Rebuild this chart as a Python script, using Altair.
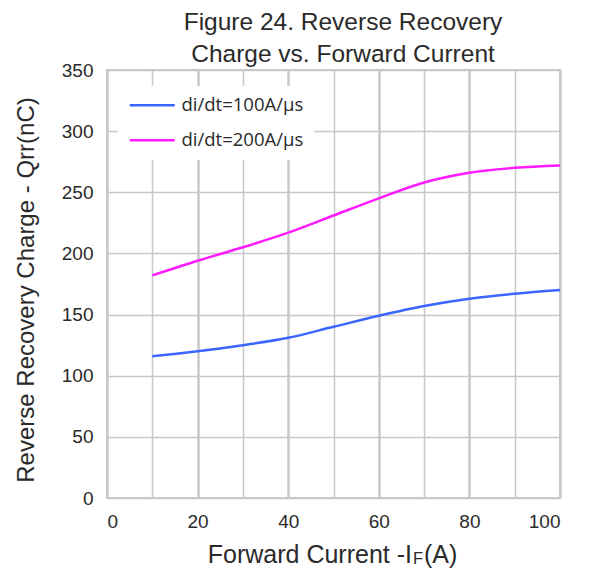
import altair as alt
import pandas as pd

current = [10, 20, 30, 40, 50, 60, 70, 80, 90, 100]
q_100 = [116, 120, 125, 131, 140, 149, 157, 163, 167, 170]
q_200 = [182, 194, 205, 217, 231, 245, 258, 266, 270, 272]
series = ["di/dt=100A/µs", "di/dt=200A/µs"]
colors = ["#3a66ff", "#ff1aff"]
x_ticks = list(range(0, 101, 10))
y_ticks = [0, 50, 100, 150, 200, 250, 300, 350]

df = pd.DataFrame({
    "I": current * 2,
    "Q": q_100 + q_200,
    "s": [series[0]] * len(current) + [series[1]] * len(current),
})

FONT = "Liberation Sans"
TXT = "#2a2a2a"
W, H = 453, 428

lines = alt.Chart(df).mark_line(strokeWidth=2.5, interpolate="monotone").encode(
    x=alt.X("I:Q", scale=alt.Scale(domain=[0, 100], nice=False),
            axis=alt.Axis(values=x_ticks, labelExpr="datum.value % 20 == 0 ? datum.label : ''",
                          grid=True, gridColor="#c8c8c8",
                          gridWidth={"condition": {"test": "datum.value % 20 == 0", "value": 2.5}, "value": 1.5},
                          ticks=False, domain=False, labelFontSize=19, labelFont=FONT,
                          labelColor=TXT, labelPadding=14, title=None)),
    y=alt.Y("Q:Q", scale=alt.Scale(domain=[0, 350], nice=False),
            axis=alt.Axis(values=y_ticks, grid=True, gridColor="#c8c8c8", gridWidth=1.5,
                          ticks=False, domain=False, labelFontSize=19, labelFont=FONT,
                          labelColor=TXT, labelPadding=14, title=None)),
    color=alt.Color("s:N", scale=alt.Scale(domain=series, range=colors),
                    legend=alt.Legend(title=None, orient="none", legendX=11, legendY=16,
                                      symbolType="M-1,0L5,0", symbolStrokeWidth=2.5, symbolSize=225,
                                      labelFontSize=18.5, labelFont="Open Sans", labelColor=TXT,
                                      fillColor="white", padding=10, rowPadding=16,
                                      labelOffset=35, labelLimit=300)),
)

xt1 = alt.Chart().mark_text(fontSize=25, font=FONT, align="right", baseline="alphabetic", color=TXT).encode(
    x=alt.value(305), y=alt.value(493), text=alt.value("Forward Current -I"))
xt2 = alt.Chart().mark_text(fontSize=16.5, font=FONT, align="left", baseline="alphabetic", color=TXT).encode(
    x=alt.value(306), y=alt.value(494), text=alt.value("F"))
xt3 = alt.Chart().mark_text(fontSize=25, font=FONT, align="left", baseline="alphabetic", color=TXT).encode(
    x=alt.value(317), y=alt.value(493), text=alt.value("(A)"))
yt = alt.Chart().mark_text(fontSize=24, font=FONT, align="center", baseline="middle", angle=270, color=TXT).encode(
    x=alt.value(-80), y=alt.value(220), text=alt.value("Reverse Recovery Charge - Qrr(nC)"))
t1 = alt.Chart().mark_text(fontSize=24.5, font=FONT, align="center", baseline="alphabetic", color=TXT).encode(
    x=alt.value(236), y=alt.value(-40), text=alt.value("Figure 24. Reverse Recovery"))
t2 = alt.Chart().mark_text(fontSize=24.5, font=FONT, align="center", baseline="alphabetic", color=TXT).encode(
    x=alt.value(236), y=alt.value(-8), text=alt.value("Charge vs. Forward Current"))

chart = alt.layer(lines, xt1, xt2, xt3, yt, t1, t2).properties(
    width=W, height=H,
    autosize=alt.AutoSizeParams(type="none"),
    padding={"left": 99, "top": 62, "right": 20, "bottom": 72},
).configure_view(stroke="#c8c8c8", strokeWidth=2)

chart.save("out.html", embed_options={"renderer": "svg", "actions": False})
